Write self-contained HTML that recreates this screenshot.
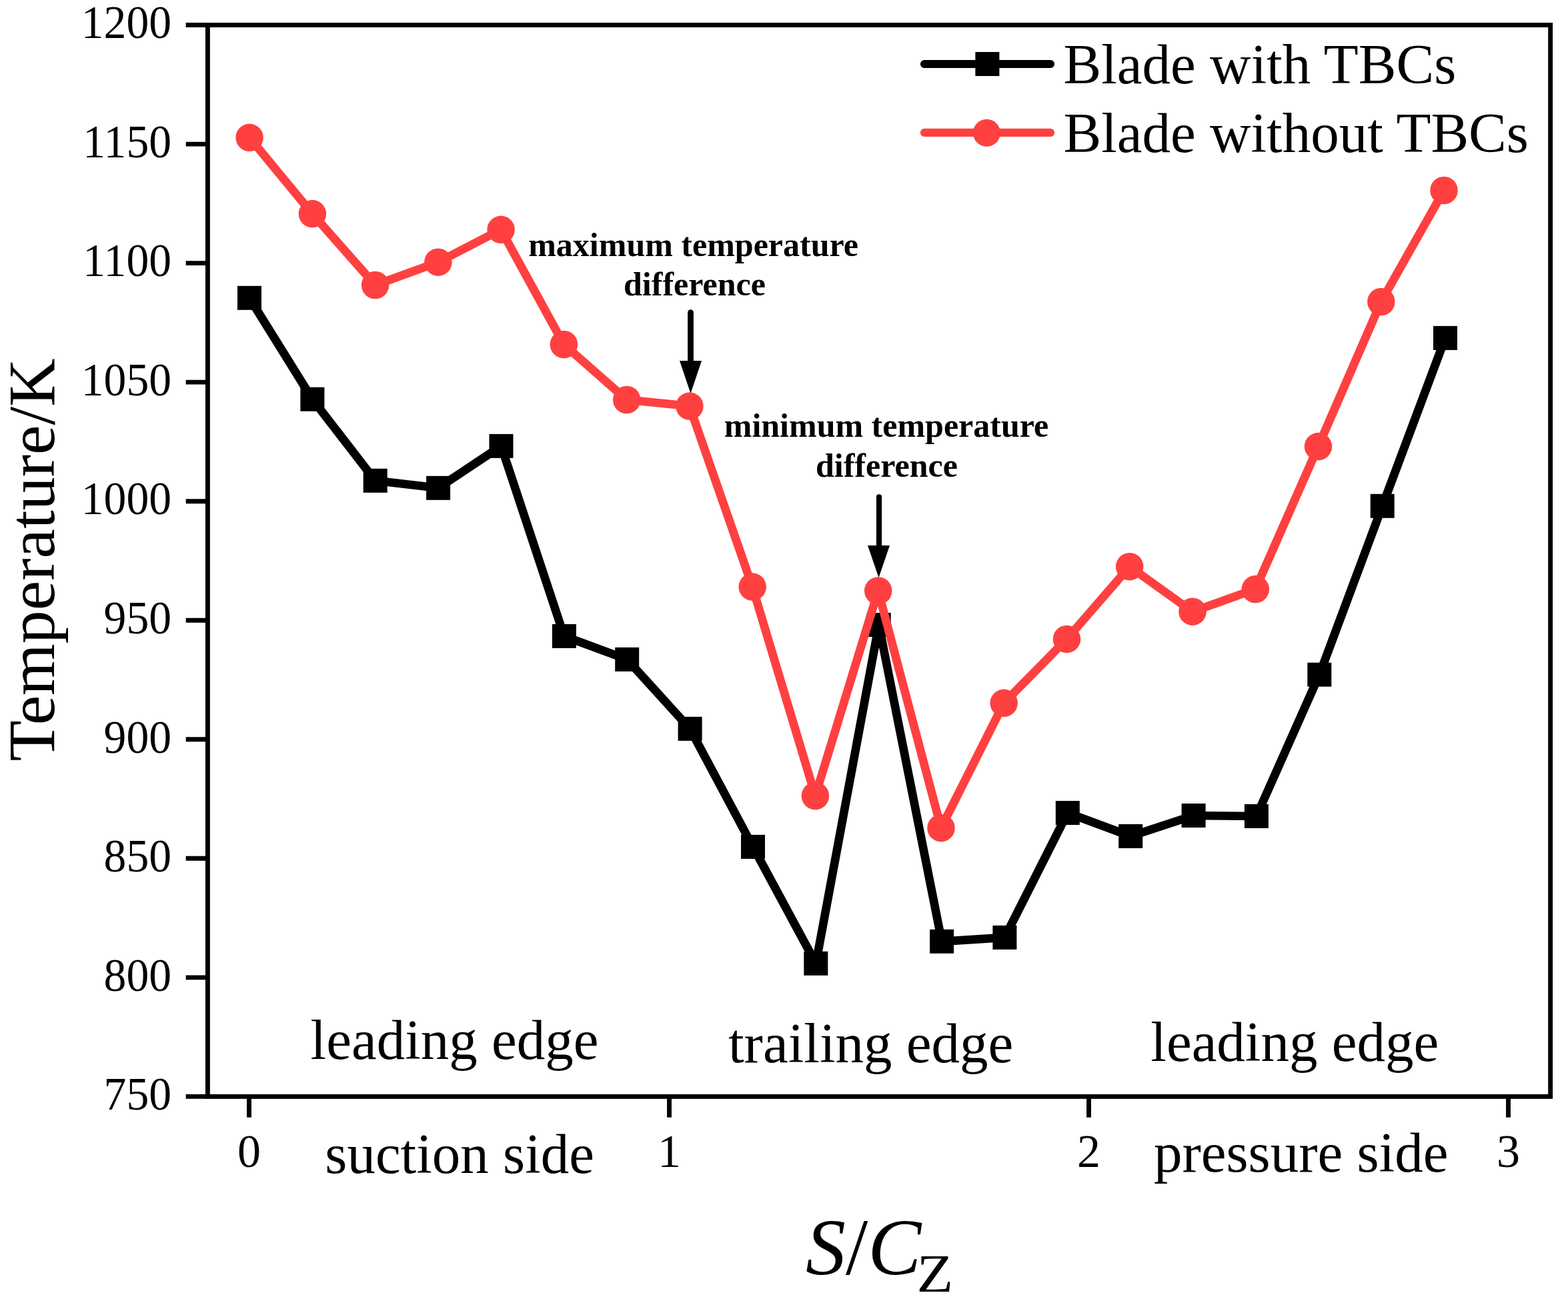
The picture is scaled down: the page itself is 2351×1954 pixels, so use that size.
<!DOCTYPE html>
<html><head><meta charset="utf-8"><title>Temperature vs S/Cz</title>
<style>
html,body{margin:0;padding:0;background:#fff;}
svg{display:block;}
text{font-family:"Liberation Serif","Times New Roman",serif;fill:#000;}
</style></head>
<body>
<svg width="2351" height="1954" viewBox="0 0 2351 1954">
<rect x="0" y="0" width="2351" height="1954" fill="#fff"/>
<!-- axes frame -->
<rect x="311.4" y="37.55" width="2013.25" height="1606.85" fill="none" stroke="#000" stroke-width="6.9"/>
<g stroke="#000" stroke-width="6.9">
<line x1="278.7" y1="37.55" x2="311.40" y2="37.55"/>
<line x1="278.7" y1="216.09" x2="311.40" y2="216.09"/>
<line x1="278.7" y1="394.63" x2="311.40" y2="394.63"/>
<line x1="278.7" y1="573.17" x2="311.40" y2="573.17"/>
<line x1="278.7" y1="751.71" x2="311.40" y2="751.71"/>
<line x1="278.7" y1="930.24" x2="311.40" y2="930.24"/>
<line x1="278.7" y1="1108.78" x2="311.40" y2="1108.78"/>
<line x1="278.7" y1="1287.32" x2="311.40" y2="1287.32"/>
<line x1="278.7" y1="1465.86" x2="311.40" y2="1465.86"/>
<line x1="278.7" y1="1644.40" x2="311.40" y2="1644.40"/>
<line x1="373.5" y1="1644.40" x2="373.5" y2="1675.7"/>
<line x1="1003.5" y1="1644.40" x2="1003.5" y2="1675.7"/>
<line x1="1632.5" y1="1644.40" x2="1632.5" y2="1675.7"/>
<line x1="2261.5" y1="1644.40" x2="2261.5" y2="1675.7"/>
</g>
<g font-size="69">
<text transform="translate(257,57.2) scale(0.98,1)" text-anchor="end">1200</text>
<text transform="translate(257,235.8) scale(0.98,1)" text-anchor="end">1150</text>
<text transform="translate(257,414.3) scale(0.98,1)" text-anchor="end">1100</text>
<text transform="translate(257,592.9) scale(0.98,1)" text-anchor="end">1050</text>
<text transform="translate(257,771.4) scale(0.98,1)" text-anchor="end">1000</text>
<text transform="translate(257,949.9) scale(0.98,1)" text-anchor="end">950</text>
<text transform="translate(257,1128.5) scale(0.98,1)" text-anchor="end">900</text>
<text transform="translate(257,1307.0) scale(0.98,1)" text-anchor="end">850</text>
<text transform="translate(257,1485.6) scale(0.98,1)" text-anchor="end">800</text>
<text transform="translate(257,1664.1) scale(0.98,1)" text-anchor="end">750</text>
</g>
<g font-size="70">
<text x="373.5" y="1749.8" text-anchor="middle">0</text>
<text x="1003.5" y="1749.8" text-anchor="middle">1</text>
<text x="1632.5" y="1749.8" text-anchor="middle">2</text>
<text x="2261.5" y="1749.8" text-anchor="middle">3</text>
</g>
<!-- axis titles -->
<text transform="translate(81.1,839.5) rotate(-90)" font-size="100" text-anchor="middle">Temperature/K</text>
<text x="1208" y="1910.5" font-size="120"><tspan font-style="italic">S</tspan>/<tspan font-style="italic">C</tspan></text>
<text transform="translate(1374.5 1937) scale(1.12 1)" font-size="80">Z</text>
<!-- region labels -->
<g font-size="85">
<text x="465.6" y="1587.8">leading edge</text>
<text x="1092" y="1593.3">trailing edge</text>
<text x="1725.3" y="1591">leading edge</text>
<text x="487.3" y="1759.2">suction side</text>
<text x="1730" y="1757.3">pressure side</text>
</g>
<!-- annotations -->
<g font-size="50" font-weight="bold" text-anchor="middle">
<text x="1039.6" y="384.1">maximum temperature</text>
<text x="1041.5" y="442.8">difference</text>
<text x="1329" y="654.6">minimum temperature</text>
<text x="1329.4" y="715.2">difference</text>
</g>
<g fill="#000" stroke="#000">
<line x1="1035.5" y1="468.7" x2="1035.5" y2="545" stroke-width="8.8" stroke-linecap="round"/>
<polygon points="1019,541 1052,541 1035.5,590" stroke="none"/>
<line x1="1318" y1="745.3" x2="1318" y2="822" stroke-width="8.2" stroke-linecap="round"/>
<polygon points="1301,818 1334,818 1317.5,866.3" stroke="none"/>
</g>
<!-- series: black -->
<polyline points="374.0,446.8 468.4,598.7 562.7,720.8 657.1,731.8 751.5,668.9 845.9,954.0 940.2,988.9 1034.6,1092.9 1129.0,1269.9 1223.3,1444.8 1317.7,937.0 1412.1,1411.8 1506.4,1405.9 1600.8,1219.0 1695.2,1254.0 1789.6,1223.0 1883.9,1224.0 1978.3,1011.7 2072.7,758.8 2167.0,506.9" fill="none" stroke="#000" stroke-width="12.7" stroke-linejoin="round"/>
<g fill="#000">
<rect x="356.0" y="428.8" width="36" height="36"/>
<rect x="450.4" y="580.7" width="36" height="36"/>
<rect x="544.7" y="702.8" width="36" height="36"/>
<rect x="639.1" y="713.8" width="36" height="36"/>
<rect x="733.5" y="650.9" width="36" height="36"/>
<rect x="827.9" y="936.0" width="36" height="36"/>
<rect x="922.2" y="970.9" width="36" height="36"/>
<rect x="1016.6" y="1074.9" width="36" height="36"/>
<rect x="1111.0" y="1251.9" width="36" height="36"/>
<rect x="1205.3" y="1426.8" width="36" height="36"/>
<rect x="1299.7" y="919.0" width="36" height="36"/>
<rect x="1394.1" y="1393.8" width="36" height="36"/>
<rect x="1488.4" y="1387.9" width="36" height="36"/>
<rect x="1582.8" y="1201.0" width="36" height="36"/>
<rect x="1677.2" y="1236.0" width="36" height="36"/>
<rect x="1771.6" y="1205.0" width="36" height="36"/>
<rect x="1865.9" y="1206.0" width="36" height="36"/>
<rect x="1960.3" y="993.7" width="36" height="36"/>
<rect x="2054.7" y="740.8" width="36" height="36"/>
<rect x="2149.0" y="488.9" width="36" height="36"/>
</g>
<!-- series: red -->
<polyline points="374.1,206.3 468.4,320.6 562.6,427.5 656.9,393.2 751.1,344.3 845.4,516.5 939.7,599.5 1033.9,609.1 1128.2,880.1 1222.4,1193.5 1316.7,886.0 1411.0,1241.7 1505.2,1054.3 1599.5,958.4 1693.7,849.7 1788.0,917.2 1882.3,883.6 1976.5,669.6 2070.8,452.5 2165.0,285.5" fill="none" stroke="#ff4040" stroke-width="12.7" stroke-linejoin="round"/>
<g fill="#ff4040">
<circle cx="374.1" cy="206.3" r="20.75"/>
<circle cx="468.4" cy="320.6" r="20.75"/>
<circle cx="562.6" cy="427.5" r="20.75"/>
<circle cx="656.9" cy="393.2" r="20.75"/>
<circle cx="751.1" cy="344.3" r="20.75"/>
<circle cx="845.4" cy="516.5" r="20.75"/>
<circle cx="939.7" cy="599.5" r="20.75"/>
<circle cx="1033.9" cy="609.1" r="20.75"/>
<circle cx="1128.2" cy="880.1" r="20.75"/>
<circle cx="1222.4" cy="1193.5" r="20.75"/>
<circle cx="1316.7" cy="886.0" r="20.75"/>
<circle cx="1411.0" cy="1241.7" r="20.75"/>
<circle cx="1505.2" cy="1054.3" r="20.75"/>
<circle cx="1599.5" cy="958.4" r="20.75"/>
<circle cx="1693.7" cy="849.7" r="20.75"/>
<circle cx="1788.0" cy="917.2" r="20.75"/>
<circle cx="1882.3" cy="883.6" r="20.75"/>
<circle cx="1976.5" cy="669.6" r="20.75"/>
<circle cx="2070.8" cy="452.5" r="20.75"/>
<circle cx="2165.0" cy="285.5" r="20.75"/>
</g>
<!-- legend -->
<line x1="1386" y1="96" x2="1575" y2="96" stroke="#000" stroke-width="12.2" stroke-linecap="round"/>
<rect x="1462.4" y="78" width="36" height="36" fill="#000"/>
<line x1="1386" y1="198.9" x2="1575" y2="198.9" stroke="#ff4040" stroke-width="12.2" stroke-linecap="round"/>
<circle cx="1479.4" cy="199.3" r="20.5" fill="#ff4040"/>
<g font-size="85">
<text x="1594.5" y="124.8">Blade with TBCs</text>
<text x="1594.5" y="227.6">Blade without TBCs</text>
</g>
</svg>
</body></html>
